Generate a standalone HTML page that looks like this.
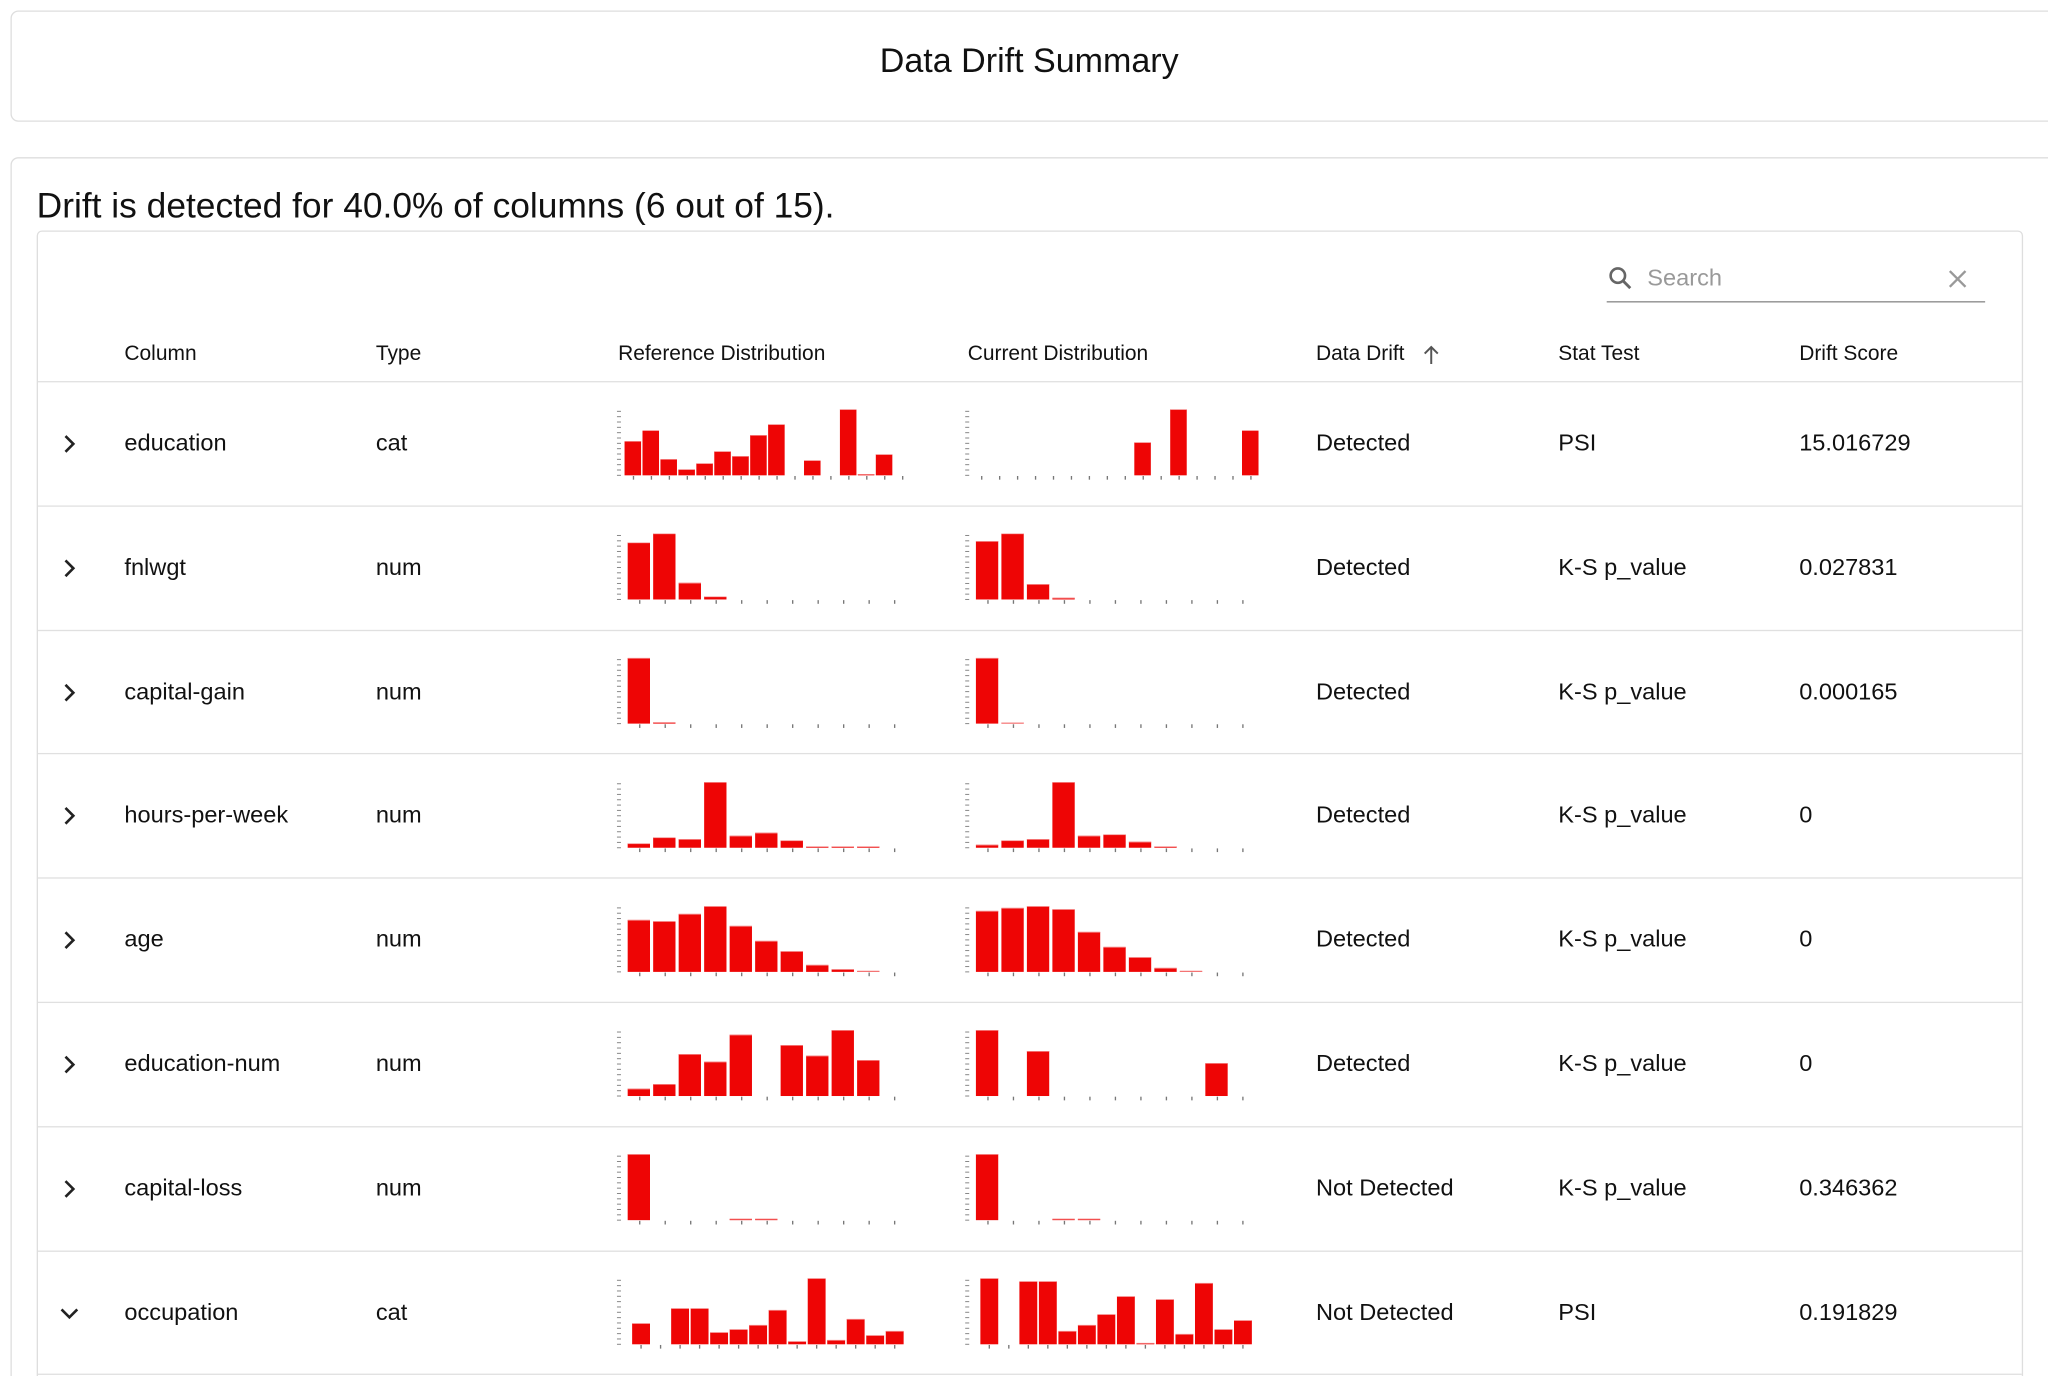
<!DOCTYPE html>
<html><head><meta charset="utf-8">
<style>
html,body{margin:0;padding:0;background:#fff;width:2048px;height:1376px;overflow:hidden;}
#w{position:absolute;left:0;top:0;width:1564px;height:1050.8px;overflow:hidden;transform:scale(1.30946);transform-origin:0 0;font-family:"Liberation Sans",sans-serif;color:#111;}
.card{position:absolute;border:1px solid #dedede;border-radius:6px;background:#fff;}
.t{position:absolute;white-space:nowrap;}
.h{font-size:16px;top:262px;color:#111;}
.r{font-size:18px;}
.sep{position:absolute;left:29px;width:1515px;height:1px;background:#e0e0e0;}
</style></head><body>
<div id="w">
<div class="card" style="left:8px;top:8px;width:1580px;height:83px;"></div>
<div class="t" style="left:0;width:1572px;text-align:center;top:31px;font-size:26px;">Data Drift Summary</div>
<div class="card" style="left:8px;top:120px;width:1580px;height:1100px;"></div>
<div class="t" style="left:28px;top:142px;font-size:27px;">Drift is detected for 40.0% of columns (6 out of 15).</div>
<div class="card" style="left:28px;top:176px;width:1515px;height:1100px;border-radius:4px;"></div>
<svg style="position:absolute;left:1228px;top:203px" width="20" height="20" viewBox="0 0 20 20"><circle cx="7.5" cy="7.5" r="5.5" fill="none" stroke="#666" stroke-width="2"/><line x1="11.5" y1="11.5" x2="17" y2="17" stroke="#666" stroke-width="2.2"/></svg>
<div class="t" style="left:1258px;top:202px;font-size:18px;color:#999;">Search</div>
<svg style="position:absolute;left:1488px;top:206px" width="14" height="14"><line x1="1" y1="1" x2="13" y2="13" stroke="#999" stroke-width="1.8"/><line x1="13" y1="1" x2="1" y2="13" stroke="#999" stroke-width="1.8"/></svg>
<div style="position:absolute;left:1227px;top:230px;width:289px;height:1px;background:#888;"></div>
<div class="t h" style="left:95px">Column</div>
<div class="t h" style="left:287px">Type</div>
<div class="t h" style="left:472px">Reference Distribution</div>
<div class="t h" style="left:739px">Current Distribution</div>
<div class="t h" style="left:1005px">Data Drift</div>
<svg style="position:absolute;left:1086px;top:263px" width="14" height="16"><line x1="7" y1="2" x2="7" y2="15" stroke="#555" stroke-width="1.5"/><polyline points="2,7 7,2 12,7" fill="none" stroke="#555" stroke-width="1.5"/></svg>
<div class="t h" style="left:1190px">Stat Test</div>
<div class="t h" style="left:1374px">Drift Score</div>
<div id="rows"></div>
<svg id="ch" style="position:absolute;left:0;top:0" width="1564" height="1050"></svg>
</div>
<script>
var rows=[
["education","cat","Detected","PSI","15.016729"],
["fnlwgt","num","Detected","K-S p_value","0.027831"],
["capital-gain","num","Detected","K-S p_value","0.000165"],
["hours-per-week","num","Detected","K-S p_value","0"],
["age","num","Detected","K-S p_value","0"],
["education-num","num","Detected","K-S p_value","0"],
["capital-loss","num","Not Detected","K-S p_value","0.346362"],
["occupation","cat","Not Detected","PSI","0.191829"]];
var h='';
var xs=[95,287,1005,1190,1374];
for(var i=0;i<8;i++){
 var cy=339+i*94.8;
 h+='<div class="sep" style="top:'+(291+i*94.8)+'px"></div>';
 var r=rows[i];
 for(var k=0;k<5;k++) h+='<div class="t r" style="left:'+xs[k]+'px;top:'+(cy-11)+'px">'+r[k]+'</div>';
 if(i<7) h+='<svg style="position:absolute;left:47px;top:'+(cy-8)+'px" width="12" height="16"><polyline points="3,2 9,8 3,14" fill="none" stroke="#222" stroke-width="2"/></svg>';
 else h+='<svg style="position:absolute;left:45px;top:'+(cy-6)+'px" width="16" height="12"><polyline points="2,3 8,9 14,3" fill="none" stroke="#222" stroke-width="2"/></svg>';
}
h+='<div class="sep" style="top:'+(291+8*94.8)+'px"></div>';
document.getElementById('rows').innerHTML=h;
var cat16={s:40.2,w:37,st:55,t0:75,nt:16};
var num={s:57.1,w:50,st:62,t0:89,nt:11};
var occ={s:43.7,w:40,st:72,t0:92,nt:14};
var data=[
[cat16,[103,135,49,18,36,72,58,121,153,0,45,0,198,4,63],[0,0,0,0,0,0,0,0,0,99,0,198,0,0,0,135]],
[num,[171,198,50,9],[175,198,46,5]],
[num,[197,4],[197,3]],
[num,[13,31,26,197,36,45,22,4,4,4],[9,22,26,197,36,40,18,4]],
[num,[156,152,174,197,138,93,62,21,8,3],[183,192,197,188,120,75,44,12,3]],
[num,[22,36,126,103,184,0,153,121,198,108],[198,0,135,0,0,0,0,0,0,99]],
[num,[198,0,0,0,4,4],[198,0,0,4,4]],
[occ,[63,0,108,108,36,45,58,103,9,198,13,76,27,40],[198,0,189,189,40,58,90,144,4,135,31,184,45,72]]];
var s='';
for(var i=0;i<8;i++){
 var by=363+i*94.8;
 s+='<g transform="translate(458.2,'+by+') scale('+(1/2.933)+','+(1/3.929)+')">';
 var c=data[i][0];
 for(var p=0;p<2;p++){
  var off=p*780, arr=data[i][1+p];
  for(var y=0;y<=200;y+=16) s+='<rect x="'+(38+off)+'" y="'+(-y-1.5)+'" width="9" height="3" fill="#888"/>';
  for(var k=0;k<c.nt;k++) s+='<rect x="'+(c.t0+k*c.s+off-1.5)+'" y="2" width="3" height="11" fill="#777"/>';
  for(var k=0;k<arr.length;k++) if(arr[k]>0){
   s+='<rect x="'+(c.st+k*c.s+off)+'" y="'+(-arr[k])+'" width="'+c.w+'" height="'+arr[k]+'" fill="#ee0505"/>';
   s+='<rect x="'+(c.st+k*c.s+off)+'" y="'+(-arr[k])+'" width="'+c.w+'" height="2" fill="#f6a0a0"/>';
  }
 }
 s+='</g>';
}
document.getElementById('ch').innerHTML=s;
</script>
</body></html>
